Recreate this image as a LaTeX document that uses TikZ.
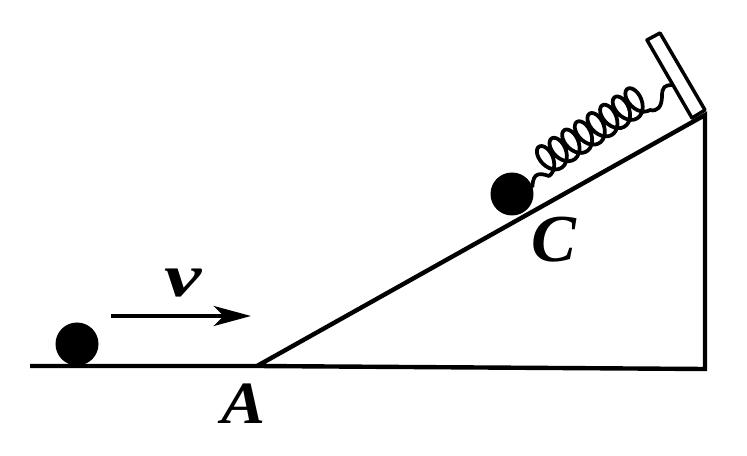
\documentclass[tikz,border=0pt]{standalone}
\usepackage{fontspec}
\setmainfont{Liberation Serif}
\usetikzlibrary{arrows.meta}
\tikzset{
  ball/.style={circle,fill=black,minimum size=32.25pt,inner sep=0pt},
  thick line/.style={line width=3.3pt},
  thin line/.style={line width=2.6pt},
  coil/.style={line width=2.8pt,line join=round,line cap=round},
  letter/.style={inner sep=0pt,font=\fontsize{45}{45}\selectfont\bfseries\itshape}
}
\begin{document}
\begin{tikzpicture}[x=0.75pt,y=-0.75pt]
\useasboundingbox (0,0) rectangle (747,456);
% ground and wedge
\coordinate (L) at (30,366);
\coordinate (A) at (257,366);
\coordinate (T) at (705,115);
\coordinate (R) at (705,369);
\draw[thick line,line join=miter] (L) -- (A) -- (R) -- (T) -- (A);
% wall
\coordinate (w1) at (692,118);
\coordinate (w2) at (647,40);
\coordinate (w3) at (660,33);
\coordinate (w4) at (705,110);
\draw[thin line,line join=round] (w1) -- (w2) -- (w3) -- (w4) -- cycle;
% balls
\node[ball] (b1) at (77,344) {};
\node[ball] (b2) at (512,194) {};
% spring
\coordinate (s0) at (549,176);
\coordinate (s1) at (650,110);
\coordinate (wa) at (672,85);
\draw[coil] (b2.20) .. controls (533,172) and (540,173) .. (s0);
\draw[coil] plot[smooth,domain=0:2880,samples=200,variable=\t]
  ({540.8+0.837*(\t/360*15.1+10*sin(\t))+0.545*15*cos(\t)},
   {163.4-0.547*(\t/360*15.1+10*sin(\t))+0.84*15*cos(\t)});
\draw[coil] (s1) .. controls (657,112) and (662,107) .. (662,96)
   .. controls (662,87) and (665,85) .. (wa);
% velocity arrow
\coordinate (v0) at (111,316);
\coordinate (v1) at (251,316);
\draw[line width=3pt,-{Stealth[length=28pt,width=15pt,inset=7.5pt]}] (v0) -- (v1);
% labels
\node[letter,xscale=1.4] (lv) at (183,283) {v};
\node[letter,xscale=1.1] (la) at (244,404) {A};
\node[letter,scale=1.12] (lc) at (554,240) {C};
\end{tikzpicture}
\end{document}
